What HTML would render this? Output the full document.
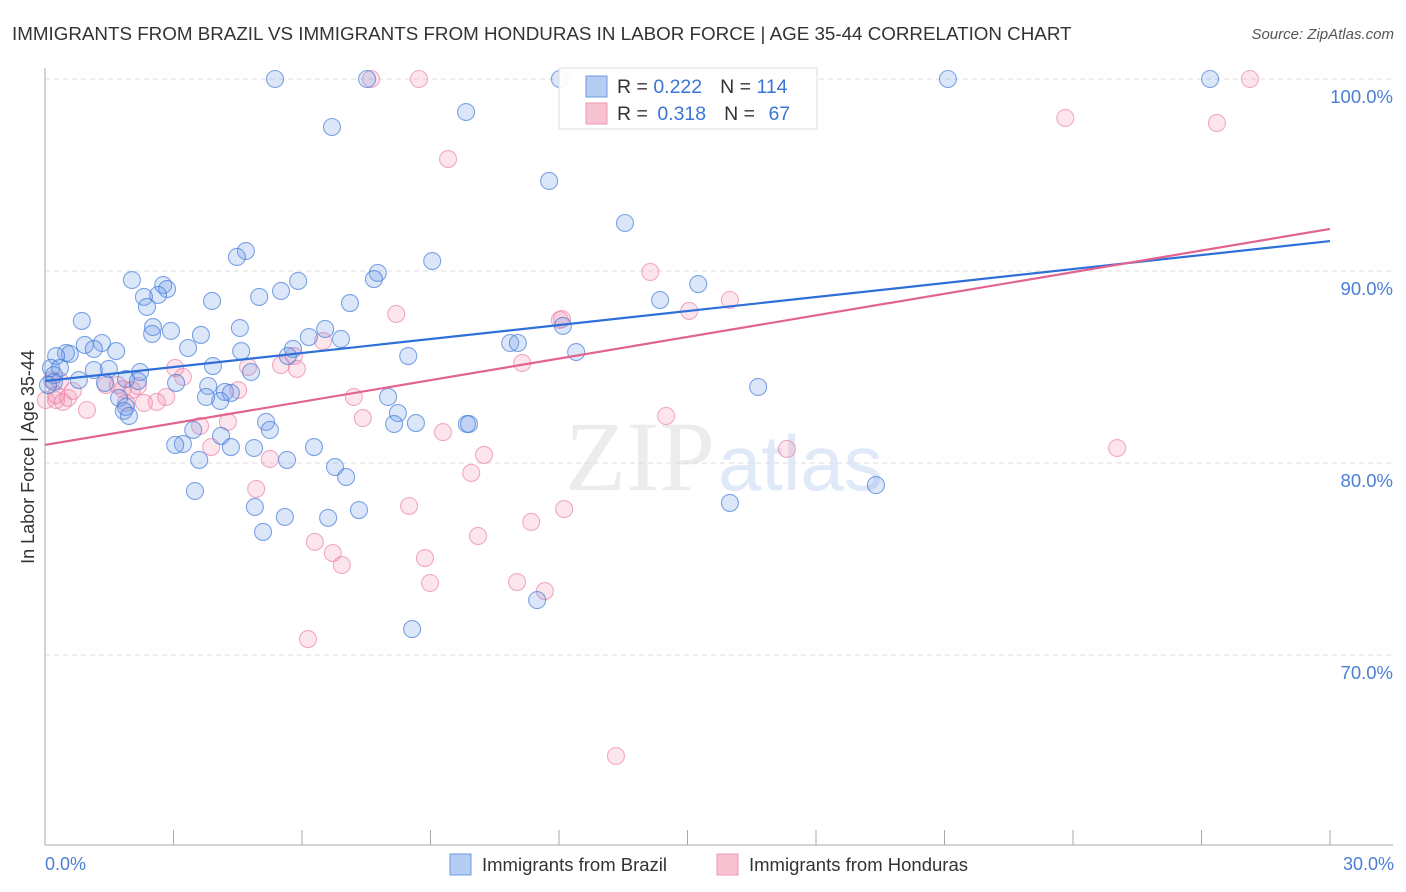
<!DOCTYPE html>
<html><head><meta charset="utf-8"><style>
body{margin:0;background:#fff;font-family:"Liberation Sans",sans-serif}
svg{display:block}
</style></head><body>
<svg id="chart" width="1406" height="892">
<text x="12" y="40" font-size="18.8" fill="#333">IMMIGRANTS FROM BRAZIL VS IMMIGRANTS FROM HONDURAS IN LABOR FORCE | AGE 35-44 CORRELATION CHART</text>
<text x="1394" y="39" font-size="15" fill="#555" font-style="italic" text-anchor="end">Source: ZipAtlas.com</text>
<text x="715" y="490" font-size="100" fill="#ececec" text-anchor="end" font-family="Liberation Serif,serif">ZIP</text>
<text x="718" y="490" font-size="78" fill="#e0e9f7">atlas</text>
<g id="grid"></g><g id="axes"></g><g id="pts"></g><g id="lines"></g>
<text transform="translate(34,457) rotate(-90)" font-size="18" fill="#333" text-anchor="middle">In Labor Force | Age 35-44</text>
<text x="45" y="870" font-size="18" fill="#4a7fd4">0.0%</text>
<text x="1394" y="870" font-size="18" fill="#4a7fd4" text-anchor="end">30.0%</text>
<g>
<rect x="450" y="854" width="21" height="21" fill="#b4cdf2" stroke="#6c9be3"/>
<text x="482" y="871" font-size="18.5" fill="#333">Immigrants from Brazil</text>
<rect x="717" y="854" width="21" height="21" fill="#f7c1d2" stroke="#ef9ab6"/>
<text x="749" y="871" font-size="18.5" fill="#333">Immigrants from Honduras</text>
</g>
</svg>
<script>
const blueX=[5.37,7.52,12.02,21.08,27.2,9.83,6.7,11.77,13.54,4.69,4.48,9.04,7.77,7.68,5.91,2.03,2.76,2.85,2.64,5.51,5.0,2.31,3.9,2.38,7.12,15.25,14.36,0.86,2.52,4.55,2.94,2.5,3.64,6.54,6.16,6.91,1.33,3.34,4.58,12.09,10.86,11.04,12.4,8.48,0.93,1.14,0.49,0.58,0.26,1.66,5.79,5.67,3.92,1.49,0.14,0.35,2.22,4.81,1.14,0.21,0.79,1.89,1.4,2.17,3.06,3.81,4.2,4.34,4.09,3.76,8.01,16.65,1.73,1.89,1.84,1.96,8.24,8.15,8.66,9.85,9.9,5.16,5.25,3.46,4.11,3.22,3.04,4.34,3.6,6.28,4.88,5.65,6.77,7.03,3.5,4.9,5.6,7.33,6.61,5.09,15.99,19.4,11.49,8.57,0.21,0.07];
const blueY=[100,100,100,100,100,98.28,97.5,94.69,92.5,91.04,90.73,90.52,89.9,89.58,89.48,89.53,89.27,89.06,88.75,88.96,88.65,88.65,88.44,88.13,88.33,89.32,88.49,87.4,87.08,87.03,86.88,86.72,86.67,86.98,86.56,86.46,86.25,85.99,85.83,87.14,86.25,86.25,85.78,85.57,86.15,85.94,85.73,85.68,85.57,85.83,85.94,85.57,85.05,84.9,84.95,84.95,84.74,84.74,84.84,84.58,84.32,84.38,84.17,84.27,84.17,84.01,83.7,83.65,83.23,83.44,83.44,83.96,83.39,82.92,82.71,82.45,82.6,82.03,82.08,82.03,82.03,82.14,81.72,81.72,81.41,80.99,80.94,80.83,80.16,80.83,80.78,80.16,79.79,79.27,78.54,77.71,77.19,77.55,77.14,76.41,77.92,78.85,72.86,71.35,84.22,84.06];
const pinkX=[7.61,8.73,28.13,23.82,27.36,9.41,14.13,15.99,15.04,12.02,8.2,6.49,5.81,5.51,5.88,4.74,3.04,3.22,4.51,0.16,0.35,0.02,0.26,0.42,0.26,0.54,1.42,1.82,2.03,2.17,2.83,2.61,2.31,1.89,0.98,7.21,3.62,4.27,7.42,9.29,14.5,10.25,9.95,5.25,3.88,4.93,8.5,12.12,11.35,10.11,6.3,6.72,6.93,8.87,8.99,11.02,11.67,6.14,13.33,17.32,25.03,11.14,12.07,1.7,0.65];
const pinkY=[100,100,100,97.97,97.71,95.83,89.95,88.49,87.92,87.45,87.76,86.35,85.57,85.1,84.9,85.0,84.95,84.48,83.8,84.32,84.27,83.28,83.28,83.18,83.54,83.39,84.06,83.85,83.8,84.01,83.44,83.18,83.13,83.13,82.76,83.44,81.93,82.14,82.34,81.61,82.45,80.42,79.48,80.21,80.83,78.65,77.76,77.6,76.93,76.2,75.89,75.31,74.69,75.05,73.75,73.8,73.33,70.83,64.74,80.73,80.78,85.21,87.5,84.06,83.75];
const blueTrend=[84.27,91.56];
const pinkTrend=[80.94,92.19];
const yTicks=[100,90,80,70];
const yTickLabels=["100.0%","90.0%","80.0%","70.0%"];
const xTicks=[0,3,6,9,12,15,18,21,24,27,30];

const NS="http://www.w3.org/2000/svg";
const sx=v=>45+v/30*1285;
const sy=v=>79+(100-v)*19.2;
function mk(tag,attrs,parent){const e=document.createElementNS(NS,tag);for(const k in attrs)e.setAttribute(k,attrs[k]);document.getElementById(parent).appendChild(e);return e;}

yTicks.forEach((t,i)=>{
  const g=mk('line',{x1:45,x2:1393,y1:sy(t),y2:sy(t),stroke:'#ddd','stroke-dasharray':'5,4'},'grid');
  
  
  const l=mk('text',{x:1393,y:sy(t)+24,'font-size':18.5,fill:'#4a7fd4','text-anchor':'end'},'grid');
  l.textContent=yTickLabels[i];
  
  
});
let a=mk('line',{x1:45,x2:45,y1:68,y2:845,stroke:'#aaa'},'axes');


a=mk('line',{x1:45,x2:1393,y1:845,y2:845,stroke:'#aaa'},'axes');


xTicks.forEach(t=>{
  const k=mk('line',{x1:sx(t),x2:sx(t),y1:830,y2:845,stroke:'#aaa'},'axes');
  
  
});
function dots(xs,ys,fill,stroke,name){
  xs.forEach((x,i)=>{
    const c=mk('circle',{cx:sx(x),cy:sy(ys[i]),r:8.5,fill:fill,stroke:stroke,'stroke-width':1.1},'pts');
    
    
  });
}
dots(pinkX,pinkY,'rgba(242,150,180,0.25)','rgba(232,120,160,0.6)','honduras-point');
dots(blueX,blueY,'rgba(110,155,230,0.25)','rgba(60,120,215,0.65)','brazil-point');
let tl=mk('line',{x1:sx(0),y1:sy(blueTrend[0]),x2:sx(30),y2:sy(blueTrend[1]),stroke:'#2f6fd8','stroke-width':2.2},'lines');


tl=mk('line',{x1:sx(0),y1:sy(pinkTrend[0]),x2:sx(30),y2:sy(pinkTrend[1]),stroke:'#e2648d','stroke-width':2.2},'lines');


</script>
<svg width="1406" height="892" style="position:absolute;left:0;top:0;pointer-events:none">
<g>
<rect x="559" y="68" width="258" height="61" fill="rgba(255,255,255,0.9)" stroke="#ddd"/>
<rect x="586" y="76" width="21" height="21" fill="#b4cdf2" stroke="#6c9be3"/>
<text x="617" y="93" font-size="19.5" fill="#333">R = <tspan fill="#3a75d4">0.222</tspan><tspan dx="18">N = </tspan><tspan fill="#3a75d4">114</tspan></text>
<rect x="586" y="103" width="21" height="21" fill="#f7c1d2" stroke="#ef9ab6"/>
<text x="617" y="120" font-size="19.5" fill="#333">R = <tspan fill="#3a75d4" dx="4">0.318</tspan><tspan dx="18">N = </tspan><tspan fill="#3a75d4" dx="8">67</tspan></text>
</g>
</svg>
</body></html>
